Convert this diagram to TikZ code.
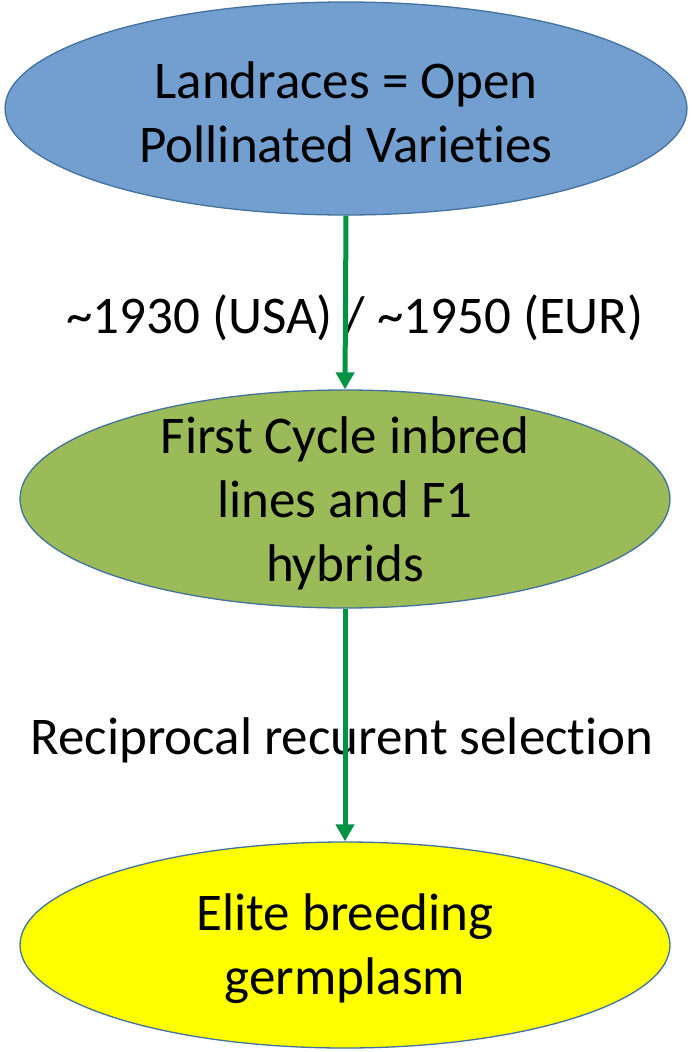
\documentclass[tikz,border=0pt]{standalone}
\usepackage{fontspec}
\setmainfont{Carlito}[Ligatures=NoCommon]
\usepackage{xcolor}
\usetikzlibrary{shapes,arrows.meta,positioning}

\definecolor{landblue}{RGB}{114,159,207}
\definecolor{cyclegreen}{RGB}{155,187,89}
\definecolor{eliteyellow}{RGB}{255,255,0}
\definecolor{rimblue}{RGB}{65,113,156}
\definecolor{arrowgreen}{RGB}{0,146,69}

\begin{document}
\begin{tikzpicture}[
  x=1pt, y=-1pt,
  stage/.style={draw=rimblue, line width=1.3pt, ellipse, inner sep=0pt},
  stagetext/.style={align=center, inner sep=0pt, yshift=-4pt, font=\fontsize{53}{64}\selectfont},
  landrace/.style={stage, fill=landblue, minimum width=682pt, minimum height=213pt},
  firstcycle/.style={stage, fill=cyclegreen, minimum width=650pt, minimum height=218pt},
  elite/.style={stage, fill=eliteyellow, minimum width=650pt, minimum height=206pt},
  steplabel/.style={font=\fontsize{53}{64}\selectfont, inner sep=0pt},
  ptr/.style={-{Triangle[width=18pt,length=17pt]}, line width=5pt, arrowgreen}
]
\useasboundingbox (0,0) rectangle (691,1052);

\node[landrace, label={[stagetext]center:Landraces = Open\\Pollinated Varieties}] (opv) at (346,108.5) {};
\node[firstcycle, label={[stagetext]center:First Cycle inbred\\lines and F1\\hybrids}] (inbred) at (345,499) {};
\node[elite, label={[stagetext]center:Elite breeding\\germplasm}] (germ) at (345,945) {};

\node[steplabel] (era) at (355,318) {\textasciitilde1930 (USA) / \textasciitilde1950 (EUR)};
\node[steplabel] (rrs) at (342,740) {Reciprocal recurent selection};

\draw[ptr] (opv.south) -- (inbred.north);
\draw[ptr] (inbred.south) -- (germ.north);
\end{tikzpicture}
\end{document}
